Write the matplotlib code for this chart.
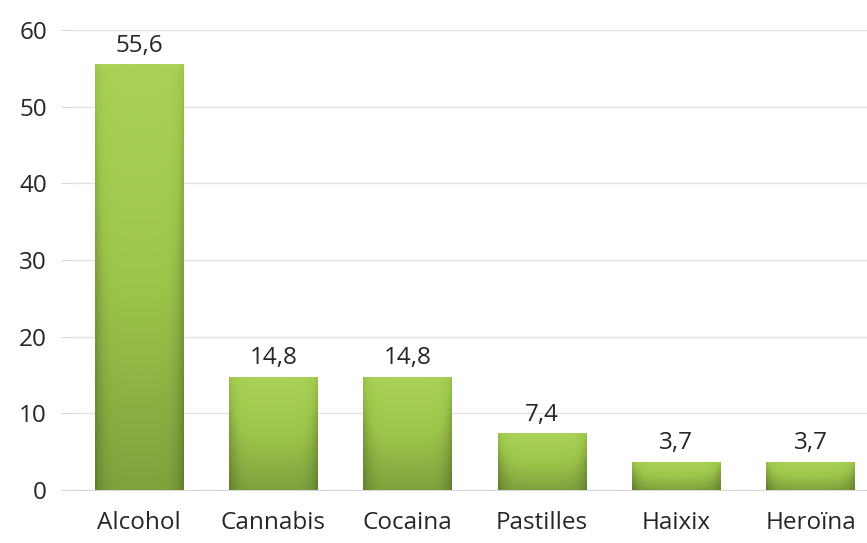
import numpy as np
import matplotlib.pyplot as plt
from matplotlib.colors import LinearSegmentedColormap
from matplotlib.patches import Rectangle

categories = ['Alcohol', 'Cannabis', 'Cocaina', 'Pastilles', 'Haixix', 'Heroïna']
values = [55.6, 14.8, 14.8, 7.4, 3.7, 3.7]
value_labels = ['55,6', '14,8', '14,8', '7,4', '3,7', '3,7']
yticks = [0, 10, 20, 30, 40, 50, 60]

plt.rcParams['font.family'] = ['Open Sans', 'DejaVu Sans']

fig = plt.figure(figsize=(8.67, 5.43), dpi=100)
ax = fig.add_axes([72 / 867, 53 / 543, 1 - 72 / 867, 460 / 543])

# vertical gradient (light top -> darker bottom) with darker side edges
ny, nx = 200, 60
vy = np.linspace(0, 1, ny)[:, None]          # 0 bottom, 1 top
vx = np.linspace(-1, 1, nx)[None, :]
shade = 0.55 + 0.45 * vy - 0.25 * np.abs(vx) ** 6
shade[-3:, :] += 0.08
cmap = LinearSegmentedColormap.from_list('g', ['#5f7f2a', '#7e9f3c', '#9cc64b', '#aad357'])

width = 0.66
x = np.arange(len(categories))
bars = ax.bar(x, values, width=width, color='none', zorder=3)
for b in bars:
    x0, y0 = b.get_x(), b.get_y()
    w, h = b.get_width(), b.get_height()
    im = ax.imshow(shade, cmap=cmap, vmin=0.3, vmax=1.0, origin='lower',
                   extent=[x0, x0 + w, y0, y0 + h], aspect='auto', zorder=3,
                   interpolation='bilinear')
    clip = Rectangle((x0, y0), w, h, transform=ax.transData)
    im.set_clip_path(clip)

for xi, v, lab in zip(x, values, value_labels):
    ax.text(xi, v + 0.8, lab, ha='center', va='bottom', fontsize=17.5, color='#262626')

ax.set_xlim(-0.5, 5.42)
ax.set_ylim(0, 60)
ax.set_yticks(yticks)
ax.set_xticks(x)
ax.set_xticklabels(categories)
ax.tick_params(axis='y', length=8, color='#d9d9d9', labelsize=17.5, labelcolor='#262626', pad=10)
ax.tick_params(axis='x', length=0, labelsize=17.5, labelcolor='#262626', pad=15)
ax.grid(axis='y', color='#e3e3e3', linewidth=1, zorder=0)
ax.set_axisbelow(True)
for s in ['top', 'right', 'left']:
    ax.spines[s].set_visible(False)
ax.spines['bottom'].set_color('#d9d9d9')

fig.savefig('out.png', dpi=100)
